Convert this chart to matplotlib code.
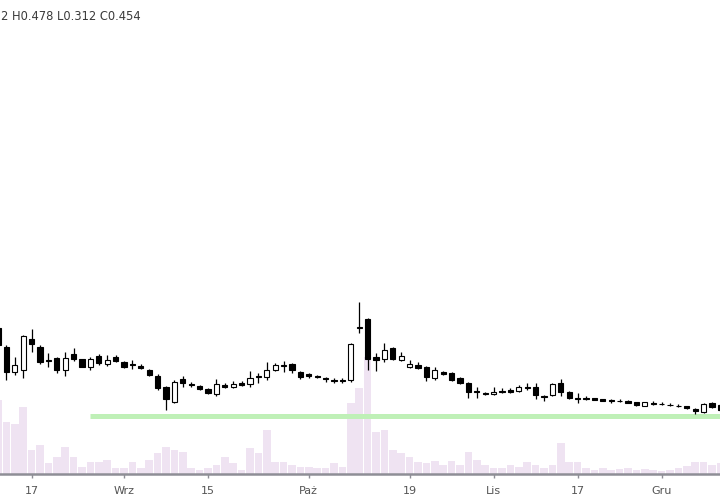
import numpy as np
import pandas as pd
import matplotlib
matplotlib.use('Agg')
import matplotlib.pyplot as plt

# ── data (daily OHLC + volume, GPW session days 2020) ─────────────────────────
dates = pd.bdate_range('2020-08-11', '2020-12-10')
dates = dates[dates != pd.Timestamp('2020-11-11')]

opens = [0.188, 0.169, 0.144, 0.146, 0.177, 0.169, 0.156, 0.158, 0.146, 0.162,
         0.157, 0.149, 0.160, 0.152, 0.159, 0.154, 0.152, 0.150, 0.146, 0.140,
         0.129, 0.114, 0.137, 0.132, 0.130, 0.127, 0.122, 0.131, 0.129, 0.133,
         0.132, 0.139, 0.139, 0.146, 0.150, 0.152, 0.144, 0.142, 0.140, 0.138,
         0.136, 0.136, 0.136, 0.188, 0.197, 0.159, 0.157, 0.168, 0.156, 0.149,
         0.151, 0.149, 0.138, 0.144, 0.143, 0.138, 0.133, 0.125, 0.123, 0.122,
         0.125, 0.126, 0.125, 0.129, 0.129, 0.120, 0.121, 0.133, 0.124, 0.118,
         0.118, 0.118, 0.117, 0.116, 0.115, 0.115, 0.114, 0.110, 0.113, 0.112,
         0.111, 0.110, 0.110, 0.107, 0.104, 0.113, 0.111]
highs = [0.190, 0.171, 0.159, 0.181, 0.187, 0.171, 0.163, 0.159, 0.164, 0.168,
         0.157, 0.159, 0.162, 0.161, 0.161, 0.155, 0.156, 0.152, 0.147, 0.142,
         0.130, 0.136, 0.140, 0.134, 0.131, 0.128, 0.137, 0.133, 0.135, 0.135,
         0.145, 0.143, 0.154, 0.153, 0.155, 0.153, 0.145, 0.143, 0.141, 0.139,
         0.138, 0.138, 0.173, 0.214, 0.198, 0.163, 0.173, 0.169, 0.164, 0.156,
         0.154, 0.150, 0.149, 0.145, 0.144, 0.139, 0.134, 0.129, 0.124, 0.129,
         0.128, 0.128, 0.131, 0.133, 0.133, 0.121, 0.133, 0.137, 0.125, 0.123,
         0.120, 0.118, 0.117, 0.117, 0.117, 0.116, 0.114, 0.114, 0.115, 0.114,
         0.113, 0.112, 0.110, 0.108, 0.113, 0.114, 0.112]
lows = [0.168, 0.136, 0.141, 0.138, 0.164, 0.152, 0.149, 0.143, 0.140, 0.155,
        0.149, 0.146, 0.151, 0.150, 0.154, 0.148, 0.147, 0.147, 0.140, 0.126,
        0.106, 0.113, 0.129, 0.129, 0.126, 0.122, 0.120, 0.128, 0.128, 0.130,
        0.129, 0.133, 0.136, 0.145, 0.144, 0.143, 0.137, 0.138, 0.138, 0.134,
        0.133, 0.133, 0.134, 0.183, 0.146, 0.145, 0.154, 0.156, 0.155, 0.148,
        0.147, 0.135, 0.136, 0.141, 0.135, 0.132, 0.118, 0.118, 0.121, 0.121,
        0.123, 0.123, 0.124, 0.126, 0.117, 0.115, 0.120, 0.120, 0.117, 0.113,
        0.116, 0.116, 0.115, 0.113, 0.114, 0.113, 0.110, 0.110, 0.111, 0.111,
        0.110, 0.109, 0.107, 0.102, 0.103, 0.108, 0.105]
closes = [0.171, 0.144, 0.151, 0.180, 0.172, 0.154, 0.155, 0.146, 0.158, 0.157,
          0.149, 0.157, 0.153, 0.156, 0.155, 0.149, 0.151, 0.148, 0.141, 0.128,
          0.117, 0.134, 0.133, 0.131, 0.127, 0.123, 0.132, 0.129, 0.132, 0.131,
          0.138, 0.140, 0.146, 0.151, 0.151, 0.146, 0.139, 0.140, 0.139, 0.137,
          0.135, 0.135, 0.172, 0.189, 0.157, 0.156, 0.166, 0.157, 0.160, 0.152,
          0.148, 0.139, 0.146, 0.142, 0.136, 0.133, 0.124, 0.124, 0.122, 0.124,
          0.124, 0.124, 0.129, 0.128, 0.121, 0.119, 0.132, 0.124, 0.118, 0.117,
          0.117, 0.116, 0.115, 0.115, 0.115, 0.113, 0.111, 0.114, 0.112, 0.112,
          0.111, 0.110, 0.108, 0.105, 0.112, 0.109, 0.106]
volumes = [74, 52, 50, 67, 24, 29, 11, 17, 27, 17, 7, 12, 12, 14, 6, 6, 12, 6,
           14, 21, 27, 24, 22, 6, 4, 6, 9, 17, 11, 4, 26, 21, 44, 12, 12, 9, 7,
           7, 6, 6, 11, 7, 71, 86, 117, 42, 44, 24, 21, 17, 12, 11, 13, 9, 13,
           9, 22, 14, 9, 6, 6, 9, 7, 12, 9, 6, 9, 31, 12, 12, 6, 4, 6, 4, 5, 6,
           4, 5, 4, 3, 4, 6, 8, 12, 12, 9, 11]  # thousands of shares

support_level = 0.100
support_start = pd.Timestamp('2020-08-26')

tick_dates = ['2020-08-17', '2020-09-01', '2020-09-15', '2020-10-01',
              '2020-10-19', '2020-11-02', '2020-11-17', '2020-12-01']
tick_labels = ['17', 'Wrz', '15', 'Paż', '19', 'Lis', '17', 'Gru']

legend_text = '2 H0.478 L0.312 C0.454'

# ── figure ────────────────────────────────────────────────────────────────────
fig = plt.figure(figsize=(7.2, 5), dpi=100, facecolor='white')
ax = fig.add_axes([0, 26 / 500, 1, 474 / 500])
axv = ax.twinx()
ax.set_zorder(2)
ax.patch.set_visible(False)

x = np.arange(len(dates))
o, h, l, c = map(np.array, (opens, highs, lows, closes))
up = c >= o

# volume bars behind everything
axv.bar(x, volumes, width=0.9, color='#efe3f2', linewidth=0)
axv.set_ylim(0, 474)
axv.axis('off')

# support line
xs = dates.get_loc(support_start)
ax.hlines(support_level, xs, x[-1] + 2, color='#bff0b7', lw=3.6, zorder=1)

# candles
ax.vlines(x, l, h, color='black', lw=0.9, zorder=3)
ax.bar(x, np.abs(c - o), bottom=np.minimum(o, c), width=0.62,
       color=np.where(up, 'white', 'black'), edgecolor='black',
       linewidth=0.8, zorder=4)

ax.set_xlim(0.24, 85.95)
ax.set_ylim(0.042, 0.516)

# axes styling
for s in ['top', 'left', 'right']:
    ax.spines[s].set_visible(False)
ax.spines['bottom'].set_color('#8e8e96')
ax.spines['bottom'].set_linewidth(1.8)
ax.set_yticks([])
ax.set_xticks([dates.get_loc(pd.Timestamp(d)) for d in tick_dates])
ax.set_xticklabels(tick_labels)
ax.tick_params(axis='x', colors='#8e8e96', length=3, width=1,
               labelcolor='#555555', labelsize=8, pad=6)

fig.text(0.0015, 0.966, legend_text, fontsize=8.3, color='#3a3a3a',
         ha='left', va='center')

fig.savefig('out.png', dpi=100, facecolor='white')
